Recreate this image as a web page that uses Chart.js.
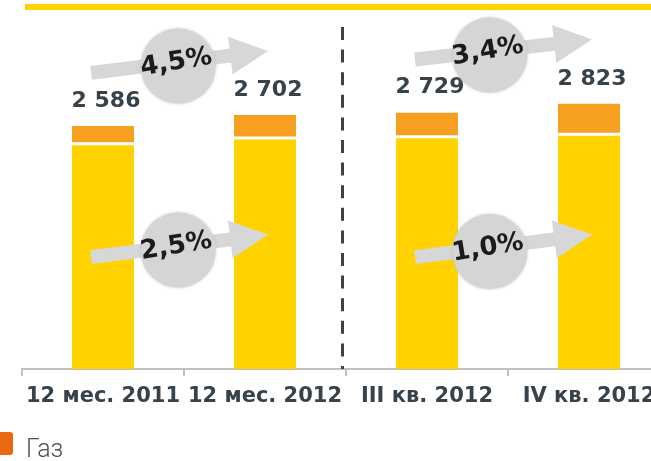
<!DOCTYPE html>
<html>
<head>
<meta charset="utf-8">
<script src="https://cdn.jsdelivr.net/npm/chart.js@4.4.0/dist/chart.umd.min.js"></script>
<style>
  html, body { margin: 0; padding: 0; background: #fff; overflow: hidden; }
  body { width: 651px; height: 461px; position: relative; }
  #chart { position: absolute; left: 0; top: 0; }
  .legend-box { position: absolute; left: -10px; top: 432px; width: 23px; height: 23px; border-radius: 3px; background: #e8690f; }
  .legend-text { position: absolute; left: 26px; top: 436px; font: 300 25px/25px Roboto, sans-serif; color: #4b535a; white-space: nowrap; }
</style>
</head>
<body>
<canvas id="chart" width="700" height="461"></canvas>
<div class="legend-box"></div>
<div class="legend-text">Газ</div>
<script>
const categories = ['12 мес. 2011', '12 мес. 2012', 'III кв. 2012', 'IV кв. 2012'];
const oilValues = [2380, 2440, 2455, 2480];
const gasValues = [206, 262, 274, 343];
const totalLabels = ['2 586', '2 702', '2 729', '2 823'];
const totalGrowth = ['4,5%', '3,4%'];
const baseGrowth = ['2,5%', '1,0%'];
const growthPairs = [[0, 1], [2, 3]];

// серая стрелка с кругом и процентом
function drawGrowth(ctx, x0, y0, x1, y1, text, t) {
  const dx = x1 - x0, dy = y1 - y0;
  const ang = Math.atan2(dy, dx);
  const len = Math.hypot(dx, dy);

  ctx.save();
  ctx.translate(x0, y0);
  ctx.rotate(ang);
  ctx.fillStyle = '#d7d7d7';
  ctx.beginPath();
  ctx.moveTo(0, -7);
  ctx.lineTo(len - 38, -7);
  ctx.lineTo(len - 38, -19);
  ctx.lineTo(len, 0);
  ctx.lineTo(len - 38, 19);
  ctx.lineTo(len - 38, 7);
  ctx.lineTo(0, 7);
  ctx.closePath();
  ctx.fill();
  ctx.restore();

  const cx = x0 + dx * t - Math.sin(ang) * 4;
  const cy = y0 + dy * t + Math.cos(ang) * 4;
  ctx.save();
  ctx.shadowColor = 'rgba(190,190,190,0.9)';
  ctx.shadowBlur = 3;
  ctx.fillStyle = '#d5d5d5';
  ctx.beginPath();
  ctx.arc(cx, cy, 37.5, 0, Math.PI * 2);
  ctx.fill();
  ctx.restore();

  ctx.save();
  ctx.translate(cx - 2, cy - 3.5);
  ctx.rotate(-0.165);
  ctx.font = 'bold 26px "DejaVu Sans"';
  ctx.fillStyle = '#1b1b1b';
  ctx.textAlign = 'center';
  ctx.textBaseline = 'middle';
  ctx.fillText(text, 0, 0);
  ctx.restore();
}

const decor = {
  id: 'decor',
  beforeDraw(chart) {
    const ctx = chart.ctx;
    ctx.save();
    ctx.fillStyle = '#ffd200';
    ctx.fillRect(25, 4, chart.width - 25, 6);
    ctx.restore();
  },
  afterDatasetsDraw(chart) {
    const { ctx, chartArea, scales: { x, y } } = chart;

    // пунктир между годами и кварталами
    ctx.save();
    ctx.strokeStyle = '#37424a';
    ctx.lineWidth = 3;
    ctx.setLineDash([13, 9.6]);
    const sx = Math.round(x.getPixelForValue(1.5)) - 3.5;
    ctx.beginPath();
    ctx.moveTo(sx, 27);
    ctx.lineTo(sx, chartArea.bottom);
    ctx.stroke();
    ctx.restore();

    // подписи итогов
    const meta = chart.getDatasetMeta(1);
    ctx.save();
    ctx.font = 'bold 22px "DejaVu Sans"';
    ctx.fillStyle = '#37424a';
    ctx.textAlign = 'center';
    ctx.textBaseline = 'alphabetic';
    meta.data.forEach((bar, i) => {
      ctx.fillText(totalLabels[i], bar.x + 3, bar.y - 19);
    });
    ctx.restore();

    growthPairs.forEach(([a, b], k) => {
      const topA = meta.data[a].y, topB = meta.data[b].y;
      const t = k === 0 ? 0.49 : 0.42;
      drawGrowth(ctx, x.getPixelForValue(a) - 12, topA - 53,
        x.getPixelForValue(b) + 3, topB - 64, totalGrowth[k], t);
      drawGrowth(ctx, x.getPixelForValue(a) - 12, y.getPixelForValue(1190),
        x.getPixelForValue(b) + 3, y.getPixelForValue(1430), baseGrowth[k], t);
    });
  }
};

new Chart(document.getElementById('chart').getContext('2d'), {
  type: 'bar',
  data: {
    labels: categories,
    datasets: [
      {
        label: 'Нефть',
        data: oilValues,
        backgroundColor: '#ffd200',
        borderWidth: 0
      },
      {
        label: 'Газ',
        data: gasValues,
        backgroundColor: '#f7a020',
        borderColor: '#ffffff',
        borderWidth: { top: 0, left: 0, right: 0, bottom: 3 },
        borderSkipped: false
      }
    ]
  },
  options: {
    responsive: false,
    animation: false,
    layout: { padding: { left: 22, right: 30, top: 0, bottom: 52 } },
    datasets: { bar: { barPercentage: 0.383, categoryPercentage: 1 } },
    plugins: { legend: { display: false }, tooltip: { enabled: false } },
    scales: {
      x: {
        stacked: true,
        offset: true,
        z: 1,
        afterFit(scale) { scale.height = 40; },
        grid: { drawOnChartArea: false, drawTicks: true, tickLength: 7, color: '#bfbfbf', lineWidth: 2 },
        border: { display: true, color: '#bfbfbf', width: 2 },
        ticks: {
          font: { family: 'DejaVu Sans', size: 21, weight: 'bold' },
          color: '#37424a',
          padding: 8,
          maxRotation: 0,
          autoSkip: false
        }
      },
      y: { stacked: true, display: false, min: 0, max: 3925 }
    }
  },
  plugins: [decor]
});
</script>
</body>
</html>
